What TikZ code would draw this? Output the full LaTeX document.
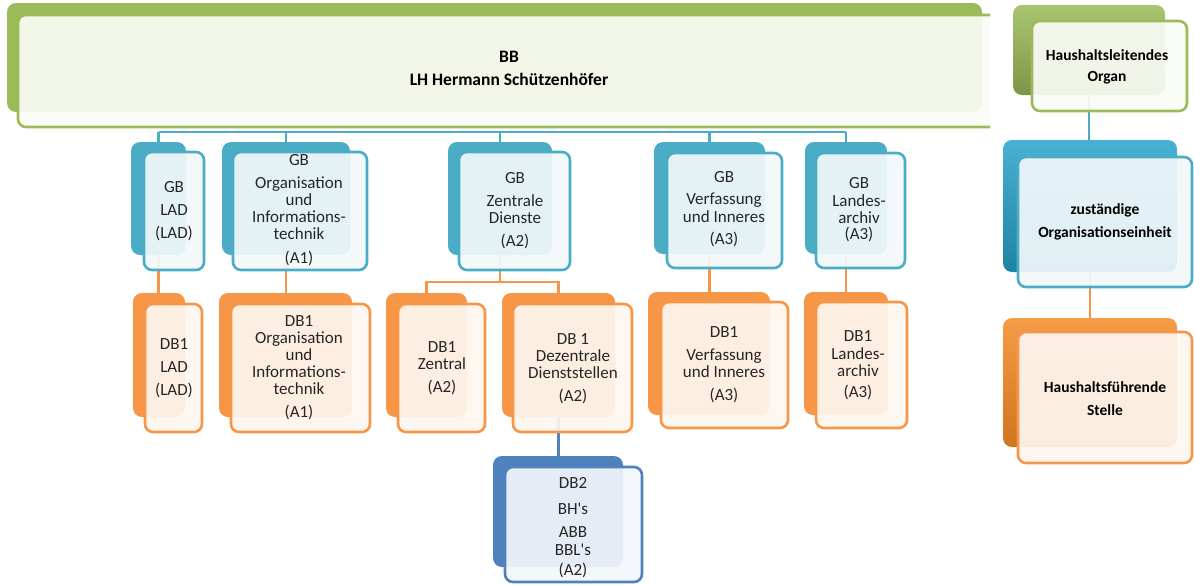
\documentclass[tikz,border=0pt]{standalone}
\usepackage{fontspec}
\setmainfont{Carlito}
\definecolor{cgb}{HTML}{4BACC6}
\definecolor{tgb}{HTML}{F2F9FB}
\definecolor{cdb}{HTML}{F79646}
\definecolor{tdb}{HTML}{FEF6F0}
\definecolor{cgr}{HTML}{9BBB59}
\definecolor{tgr}{HTML}{FAFCF6}
\definecolor{cdk}{HTML}{4F81BD}
\definecolor{tdk}{HTML}{F3F6FB}
\definecolor{txtc}{HTML}{262626}
\definecolor{lgb}{HTML}{27A3CC}
\definecolor{ldb}{HTML}{F58A25}
\newcommand\bx[6]{\node[#1, minimum width={(#5)-(#3)}, minimum height={(#6)-(#4)}] (#2) at ({((#3)+(#5))/2},{((#4)+(#6))/2}) {};}
\tikzset{
  x=1pt, y=-1pt,
  box/.style={inner sep=0pt, outer sep=0pt, rectangle},
  gbB/.style={box, fill=cgb, rounded corners=9pt},
  gbF/.style={box, draw=cgb, line width=2.6pt, fill=tgb, fill opacity=0.92, rounded corners=8pt},
  dbB/.style={box, fill=cdb, rounded corners=9pt},
  dbF/.style={box, draw=cdb, line width=2.6pt, fill=tdb, fill opacity=0.92, rounded corners=8pt},
  dkB/.style={box, fill=cdk, rounded corners=9pt},
  dkF/.style={box, draw=cdk, line width=2.6pt, fill=tdk, fill opacity=0.92, rounded corners=8pt},
  grB/.style={box, fill=cgr, rounded corners=9pt},
  grF/.style={box, draw=cgr, line width=2.6pt, fill=tgr, fill opacity=0.92, rounded corners=8pt},
  lgrB/.style={box, top color=cgr!85!white, bottom color=cgr!80!black, rounded corners=9pt},
  lgbB/.style={box, top color=lgb!85!white, bottom color=lgb!80!black, rounded corners=9pt},
  ldbB/.style={box, top color=ldb!85!white, bottom color=ldb!85!black, rounded corners=9pt},
  txt/.style={inner sep=0pt, align=center, text=txtc, font=\fontsize{17}{17}\selectfont},
  btxt/.style={inner sep=0pt, align=center, text=black, font=\bfseries\fontsize{17.5}{23}\selectfont},
  ltxt/.style={inner sep=0pt, align=center, text=black, font=\bfseries\fontsize{15.5}{23}\selectfont},
  bl/.style={draw=cgb, line width=2.6pt},
  ol/.style={draw=cdb, line width=2.6pt},
  dl/.style={draw=cdk, line width=2.6pt},
}
\begin{document}
\begin{tikzpicture}
\useasboundingbox (0,0) rectangle (1194,584);
% helper coordinates
\coordinate (bus) at (0,132);
\coordinate (split) at (0,282);
% invisible placeholders so connectors can be drawn first
\bx{box}{gbladB}{131}{142}{186}{255}
\bx{box}{gborgB}{222}{142}{350}{255}
\bx{box}{gbzdB}{448}{142}{552}{255}
\bx{box}{gbviB}{654}{142}{765}{254}
\bx{box}{gblaB}{805}{142}{887}{254}
\bx{box}{dbladB}{133}{293}{185}{417}
\bx{box}{dborgB}{219}{293}{352}{417}
\bx{box}{dbzB}{386}{293}{467}{417}
\bx{box}{dbdzB}{502}{293}{615}{417}
\bx{box}{dbviB}{648}{292}{770}{415}
\bx{box}{dblaB}{804}{292}{888}{415}
\bx{box}{dbtwoB}{493}{456}{623}{567}
\bx{box}{lgaB}{1013}{5}{1165}{95}
\bx{box}{lgbB}{1003}{140}{1177}{272}
\bx{box}{lgcB}{1003}{318}{1177}{447}
% connectors
\draw[bl] (gbladB.north |- bus) -- (gblaB.north |- bus);
\foreach \n in {gbladB,gborgB,gbzdB,gbviB,gblaB} \draw[bl] (\n.north |- bus) -- (\n.north);
\draw[ol] (gbladB.south) -- (gbladB.south |- dbladB.north);
\draw[ol] (gborgB.south) -- (gborgB.south |- dborgB.north);
\draw[ol] (gbzdB.south) -- (gbzdB.south |- split);
\draw[ol] (dbzB.north) -- (dbzB.north |- split) -- (dbdzB.north |- split) -- (dbdzB.north);
\draw[ol] (gbviB.south) -- (gbviB.south |- dbviB.north);
\draw[ol] (gblaB.south) -- (gblaB.south |- dblaB.north);
\draw[dl] (dbdzB.south) -- (dbdzB.south |- dbtwoB.north);
\draw[bl] (lgaB.south) -- (lgaB.south |- lgbB.north);
\draw[ol] (lgbB.south) -- (lgbB.south |- lgcB.north);
% banner
\bx{grB}{bbB}{7}{3}{982}{112}
\begin{scope}
\clip (0,0) rectangle (990,140);
\bx{grF}{bbF}{18}{15}{1000}{127}
\end{scope}
\node[btxt] (bbT) at (509,68.5) {BB\\LH Hermann Schützenhöfer};
% GB boxes
\bx{gbB}{gbladBk}{131}{142}{186}{255}
\bx{gbF}{gbladF}{144}{152}{204}{270}
\bx{gbB}{gborgBk}{222}{142}{350}{255}
\bx{gbF}{gborgF}{233}{152}{367}{270}
\bx{gbB}{gbzdBk}{448}{142}{552}{255}
\bx{gbF}{gbzdF}{459}{152}{570}{270}
\bx{gbB}{gbviBk}{654}{142}{765}{254}
\bx{gbF}{gbviF}{667}{153}{782}{268}
\bx{gbB}{gblaBk}{805}{142}{887}{254}
\bx{gbF}{gblaF}{816}{153}{905}{268}
% DB1 boxes
\bx{dbB}{dbladBk}{133}{293}{185}{417}
\bx{dbF}{dbladF}{145}{304}{202}{432}
\bx{dbB}{dborgBk}{219}{293}{352}{417}
\bx{dbF}{dborgF}{231}{304}{370}{432}
\bx{dbB}{dbzBk}{386}{293}{467}{417}
\bx{dbF}{dbzF}{398}{304}{485}{432}
\bx{dbB}{dbdzBk}{502}{293}{615}{417}
\bx{dbF}{dbdzF}{513}{304}{632}{432}
\bx{dbB}{dbviBk}{648}{292}{770}{415}
\bx{dbF}{dbviF}{661}{302}{788}{428}
\bx{dbB}{dblaBk}{804}{292}{888}{415}
\bx{dbF}{dblaF}{816}{302}{907}{428}
% DB2
\bx{dkB}{dbtwoBk}{493}{456}{623}{567}
\bx{dkF}{dbtwoF}{505}{467}{642}{582}
% legend
\bx{lgrB}{lgaBk}{1013}{5}{1165}{95}
\bx{grF}{lgaF}{1032}{21}{1187}{111}
\bx{lgbB}{lgbBk}{1003}{140}{1177}{272}
\bx{gbF}{lgbF}{1018}{157}{1192}{287}
\bx{ldbB}{lgcBk}{1003}{318}{1177}{447}
\bx{dbF}{lgcF}{1018}{332}{1192}{463}
% texts
\node[txt] (t1) at (174,211) {GB\\[6pt]LAD\\[6pt](LAD)};
\node[txt] (t2) at (299,210.5) {GB\\[6pt]Organisation\\und\\Informations-\\technik\\[7pt](A1)};
\node[txt] (t3) at (515,210.5) {GB\\[6pt]Zentrale\\Dienste\\[6pt](A2)};
\node[txt] (t4) at (724,209.5) {GB\\[5pt]Verfassung\\[1pt]und Inneres\\[5pt](A3)};
\node[txt] (t5) at (859,209.5) {GB\\[1pt]Landes-\\archiv\\[-1pt](A3)};
\node[txt] (t6) at (174,368) {DB1\\[6pt]LAD\\[6pt](LAD)};
\node[txt] (t7) at (299,367.5) {DB1\\Organisation\\und\\Informations-\\technik\\[6pt](A1)};
\node[txt] (t8) at (442,368) {DB1\\Zentral\\[6pt](A2)};
\node[txt] (t9) at (573,368.5) {DB 1\\Dezentrale\\Dienststellen\\[6pt](A2)};
\node[txt] (t10) at (724,364.5) {DB1\\[6pt]Verfassung\\und Inneres\\[6pt](A3)};
\node[txt] (t11) at (858,365) {DB1\\[1pt]Landes-\\archiv\\[4pt](A3)};
\node[txt] (t12) at (573,527.5) {DB2\\[9pt]BH\textquotesingle s\\[6pt]ABB\\[1pt]BBL\textquotesingle s\\[3pt](A2)};
\node[ltxt] (l1) at (1107,67) {Haushaltsleitendes\\[-2pt]Organ};
\node[ltxt] (l2) at (1105,221.5) {zuständige\\Organisationseinheit};
\node[ltxt] (l3) at (1105,398.5) {Haushaltsführende\\Stelle};
\end{tikzpicture}
\end{document}
